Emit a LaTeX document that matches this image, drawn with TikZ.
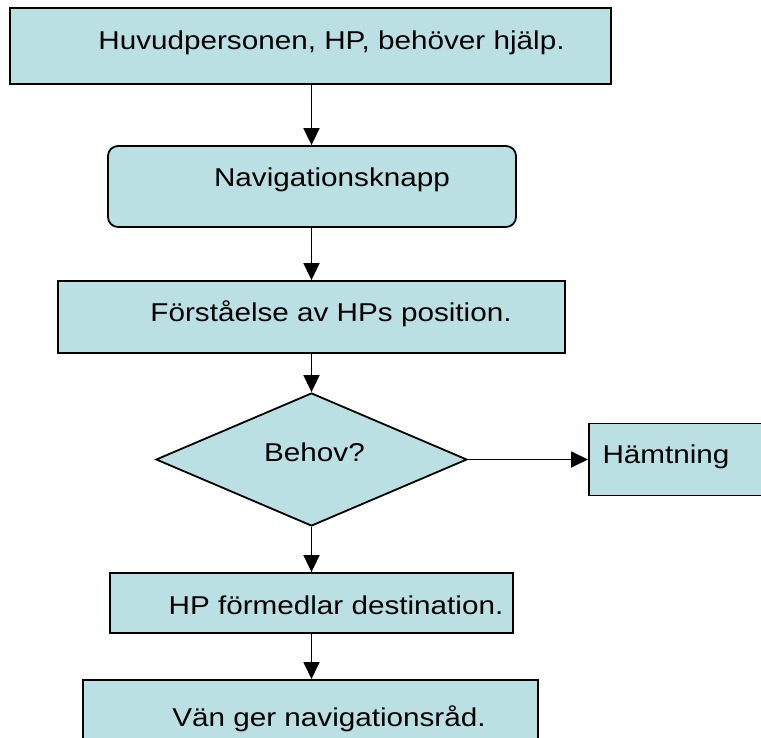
\documentclass[tikz,border=0pt]{standalone}
\usepackage{fontspec}
\setmainfont{Liberation Sans}[FakeStretch=1.15]
\usetikzlibrary{arrows.meta,shapes.geometric}
\definecolor{boxfill}{RGB}{186,224,227}
\begin{document}
\begin{tikzpicture}[x=1pt,y=-1pt,
  box/.style={draw=black, line width=1.8pt, fill=boxfill, inner sep=0pt, rectangle},
  lbl/.style={anchor=base, inner sep=0pt, font=\fontsize{25.8}{30}\selectfont},
  arr/.style={line width=1.8pt, -{Triangle[length=17pt,width=16pt]}}]
\useasboundingbox (0,0) rectangle (761,738);
\clip (0,0) rectangle (761,738);
\node[box, minimum width=601pt, minimum height=76pt] (b1) at (310.5,46) {};
\node[lbl] (t1) at (331.5,50) {Huvudpersonen, HP, behöver hjälp.};
\node[box, rounded corners=10pt, minimum width=408pt, minimum height=81pt] (b2) at (312,186.5) {};
\node[lbl] (t2) at (332,187) {Navigationsknapp};
\node[box, minimum width=507pt, minimum height=72pt] (b3) at (311.5,317) {};
\node[lbl] (t3) at (331,322) {Förståelse av HPs position.};
\node[box, shape=diamond, minimum width=311pt, minimum height=133pt] (d) at (311.5,459.5) {};
\node[lbl] (t4) at (314.5,461) {Behov?};
\node[box, minimum width=200pt, minimum height=72pt, anchor=west] (b4) at (588,459.5) {};
\node[lbl] (t5) at (666,463) {Hämtning};
\node[box, minimum width=403pt, minimum height=60pt] (b5) at (311.5,603) {};
\node[lbl] (t6) at (336,614) {HP förmedlar destination.};
\node[box, minimum width=455pt, minimum height=100pt, anchor=north] (b6) at (310.5,679) {};
\node[lbl] (t7) at (329,726) {Vän ger navigationsråd.};
\draw[arr] (b1.south -| d.north) -- (b2.north -| d.north);
\draw[arr] (b2.south -| d.north) -- (b3.north -| d.north);
\draw[arr] (b3.south -| d.north) -- (d.north);
\draw[arr] (d.east) -- (b4.west);
\draw[arr] (d.south) -- (b5.north -| d.south);
\draw[arr] (b5.south -| d.south) -- (b6.north -| d.south);
\end{tikzpicture}
\end{document}
